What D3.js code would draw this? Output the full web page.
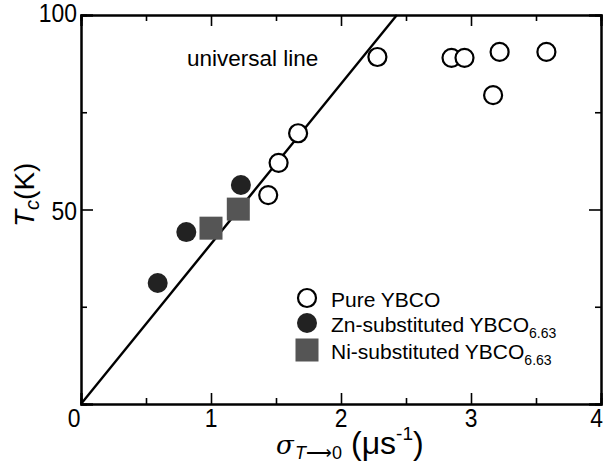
<!DOCTYPE html>
<html lang="en">
<head>
  <meta charset="UTF-8">
  <title>Tc vs sigma</title>
  <script src="https://d3js.org/d3.v7.min.js"></script>
  <style>
    body { margin: 0; background: #fff; }
    svg { display: block; font-family: "Liberation Sans", Arial, sans-serif; }
  </style>
</head>
<body>
  <svg id="chart" width="604" height="464"></svg>

  <script>
    // data
    const xTicks = [0, 1, 2, 3, 4];
    const xMinor = [0.5, 1.5, 2.5, 3.5];
    const yTicks = [0, 50, 100];
    const yMinor = [25, 75];

    const pure = [
      [2.28, 89.2], [2.85, 89], [2.95, 89], [3.22, 90.5], [3.58, 90.5],
      [3.17, 79.4], [1.67, 69.6], [1.52, 62], [1.44, 53.7]
    ];
    const zn = [[0.59, 31.1], [0.81, 44.2], [1.23, 56.3]];
    const ni = [[1.0, 45.2], [1.21, 50.1]];
    const universal = [[0, 0], [2.43, 100]];

    const legendItems = [
      { type: "pure", label: "Pure YBCO", sub: "" },
      { type: "zn", label: "Zn-substituted YBCO", sub: "6.63" },
      { type: "ni", label: "Ni-substituted YBCO", sub: "6.63" }
    ];

    const svg = d3.select("#chart");
    const mLeft = 81, mRight = 601, mTop = 15, mBottom = 404;

    const x = d3.scaleLinear().domain([0, 4]).range([mLeft, mRight]);
    const y = d3.scaleLinear().domain([0, 100]).range([mBottom, mTop]);

    // axes: ticks point inward, minor ticks shorter
    function frame(axisFn, scale, ticks, size, pos) {
      const g = svg.append("g").attr("transform", pos)
        .call(axisFn(scale).tickValues(ticks).tickSize(size).tickFormat(""));
      g.select(".domain").attr("stroke-width", 2);
      g.selectAll(".tick line").attr("stroke-width", 1.6);
      return g;
    }

    frame(d3.axisBottom, x, xTicks, -11, `translate(0,${mBottom})`);
    frame(d3.axisBottom, x, xMinor, -6, `translate(0,${mBottom})`);
    frame(d3.axisTop, x, xTicks, -11, `translate(0,${mTop})`);
    frame(d3.axisTop, x, xMinor, -6, `translate(0,${mTop})`);
    frame(d3.axisLeft, y, yTicks, -12, `translate(${mLeft},0)`);
    frame(d3.axisLeft, y, yMinor, -6, `translate(${mLeft},0)`);
    frame(d3.axisRight, y, yTicks, -12, `translate(${mRight},0)`);
    frame(d3.axisRight, y, yMinor, -6, `translate(${mRight},0)`);

    // tick labels (slightly narrow digits)
    const lab = svg.append("g").attr("font-size", 26).attr("fill", "#000");
    xTicks.forEach(d => {
      const last = d === xTicks[xTicks.length - 1];
      const px = d === 0 ? x(d) - 7 : last ? 603 : x(d);
      lab.append("text")
        .attr("transform", `translate(${px},427) scale(0.88,1)`)
        .attr("text-anchor", last ? "end" : "middle")
        .text(d);
    });

    yTicks.filter(d => d > 0).forEach(d => {
      lab.append("text")
        .attr("transform", `translate(${mLeft - 4},${d === 100 ? 22 : y(d) + 10}) scale(0.88,1)`)
        .attr("text-anchor", "end")
        .text(d);
    });

    // universal line
    const line = d3.line().x(d => x(d[0])).y(d => y(d[1]));
    svg.append("path").datum(universal)
      .attr("d", line)
      .attr("fill", "none")
      .attr("stroke", "#000")
      .attr("stroke-width", 2.4);

    svg.append("text")
      .attr("x", 187).attr("y", 66)
      .attr("font-size", 22.5)
      .text("universal line");

    // markers
    const sq = 23;
    function drawMarker(g, type, cx, cy) {
      if (type === "pure") {
        g.append("circle").attr("cx", cx).attr("cy", cy).attr("r", 9)
          .attr("fill", "#fff").attr("stroke", "#000").attr("stroke-width", 2.2);
      } else if (type === "zn") {
        g.append("circle").attr("cx", cx).attr("cy", cy).attr("r", 10)
          .attr("fill", "#222");
      } else {
        g.append("rect").attr("x", cx - sq / 2).attr("y", cy - sq / 2)
          .attr("width", sq).attr("height", sq).attr("fill", "#555");
      }
    }

    const pts = svg.append("g");
    pure.forEach(d => drawMarker(pts, "pure", x(d[0]), y(d[1])));
    zn.forEach(d => drawMarker(pts, "zn", x(d[0]), y(d[1])));
    ni.forEach(d => drawMarker(pts, "ni", x(d[0]), y(d[1])));

    // legend
    const legY = [298, 323, 350];
    const leg = svg.append("g").attr("font-size", 21);
    legendItems.forEach((item, i) => {
      drawMarker(leg, item.type, 307, legY[i]);
      const t = leg.append("text").attr("x", 331).attr("y", legY[i] + 9);
      t.append("tspan").text(item.label);
      if (item.sub) {
        t.append("tspan").attr("font-size", 14).attr("dy", 6).text(item.sub);
      }
    });

    // y axis title: T_c (K)
    const yt = svg.append("text")
      .attr("transform", "translate(34,227) rotate(-90)")
      .attr("font-size", 28);
    yt.append("tspan").attr("font-style", "italic").text("T");
    yt.append("tspan").attr("font-style", "italic").attr("font-size", 20).attr("dy", 5).text("c");
    yt.append("tspan").attr("dy", -5).text("(K)");

    // x axis title: sigma_{T->0} (mus^-1)
    const xt = svg.append("g");
    xt.append("text").attr("x", 276).attr("y", 454)
      .attr("font-family", "DejaVu Serif, serif").attr("font-style", "italic")
      .attr("font-size", 26).text("σ");
    const sub = xt.append("text").attr("x", 295).attr("y", 459).attr("font-size", 18);
    sub.append("tspan").attr("font-style", "italic").text("T");
    sub.append("tspan").text("⟶0");
    const unit = xt.append("text").attr("x", 351).attr("y", 454).attr("font-size", 32);
    unit.append("tspan").text("(μs");
    unit.append("tspan").attr("font-size", 19).attr("dy", -14).text("-1");
    unit.append("tspan").attr("dy", 14).text(")");
  </script>
</body>
</html>
